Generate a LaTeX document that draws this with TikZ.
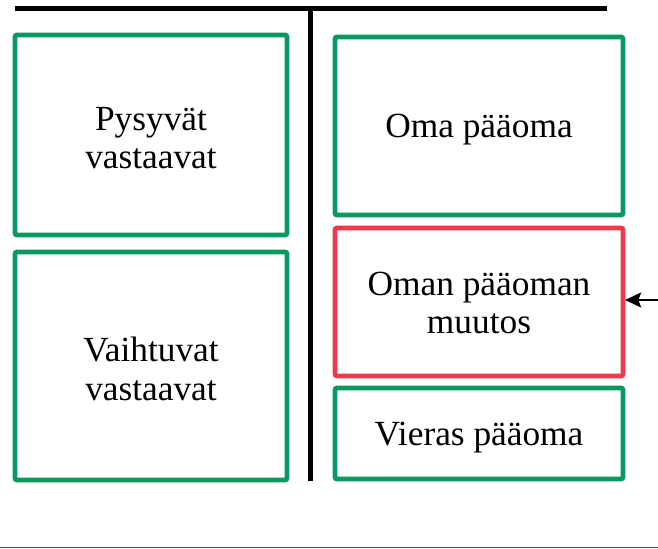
\documentclass[tikz,border=0pt]{standalone}
\usepackage{fontspec}
\setmainfont{Liberation Serif}
\usetikzlibrary{arrows.meta}
\definecolor{boxgreen}{RGB}{8,152,96}
\definecolor{boxred}{RGB}{238,58,74}
\begin{document}
\begin{tikzpicture}[x=0.75pt,y=-0.75pt,
  acct/.style={draw=boxgreen,line width=3.6pt,rounded corners=1.5pt},
  redacct/.style={draw=boxred,line width=3.6pt,rounded corners=1.5pt},
  lbl/.style={font=\fontsize{26.5}{29}\selectfont,align=center,text=black}]
\useasboundingbox (0,0) rectangle (658,549);
% T-account lines
\coordinate (tl) at (15,8.5);
\coordinate (tr) at (607,8.5);
\coordinate (vt) at (310.5,8.5);
\coordinate (vb) at (310.5,481);
\draw[line width=3.6pt] (tl) -- (tr);
\draw[line width=3.2pt] (vt) -- (vb);
% boxes
\draw[acct] (15,35) rectangle (287,235);
\draw[acct] (15,252) rectangle (287,480);
\draw[acct] (335,37) rectangle (623,215);
\draw[redacct] (335,228) rectangle (623,376);
\draw[acct] (335,388) rectangle (623,479);
% labels
\node[lbl] (pys) at (151,138) {Pysyvät\\vastaavat};
\node[lbl] (vai) at (151,369) {Vaihtuvat\\vastaavat};
\node[lbl] (oma) at (479,130) {Oma pääoma};
\node[lbl] (muu) at (479,303) {Oman pääoman\\muutos};
\node[lbl] (vie) at (479,438) {Vieras pääoma};
% arrow
\coordinate (as) at (658,300);
\coordinate (ae) at (625,300);
\draw[line width=2.2pt,-{Stealth[length=12pt,width=11pt,inset=2pt]}] (as) -- (ae);
% bottom line
\coordinate (bl) at (0,547.5);
\coordinate (br) at (658,547.5);
\draw[line width=1.2pt,color=black!70] (bl) -- (br);
\end{tikzpicture}
\end{document}
